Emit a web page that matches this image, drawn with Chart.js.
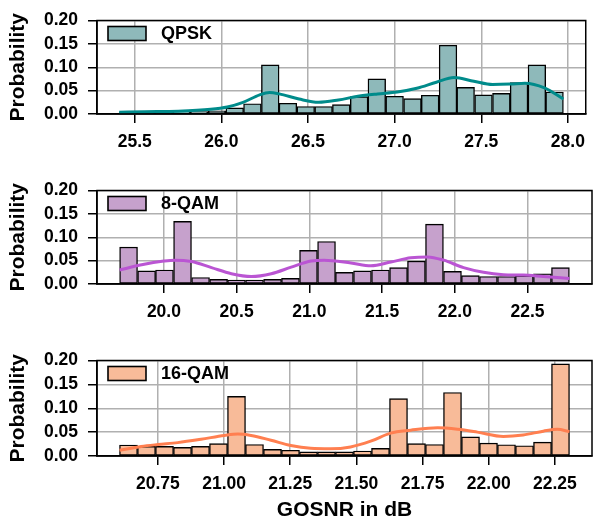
<!DOCTYPE html>
<html><head><meta charset="utf-8">
<script src="https://cdn.jsdelivr.net/npm/chart.js@4"></script>
<style>
html,body{margin:0;padding:0;background:#fff;}
#wrap{position:relative;width:594px;height:523px;overflow:hidden;background:#fff;}
canvas{position:absolute;left:0;}
</style></head><body>
<div id="wrap">
<canvas id="c1" width="594" height="170" style="top:0px"></canvas>
<canvas id="c2" width="594" height="170" style="top:170px"></canvas>
<canvas id="c3" width="594" height="183" style="top:340px"></canvas>
</div>
<script>
// ---------- QPSK ----------
const qpskBins = [25.461, 25.564, 25.666, 25.769, 25.871, 25.974, 26.077, 26.179, 26.282, 26.384, 26.487, 26.590, 26.692, 26.795, 26.897, 27.000, 27.103, 27.205, 27.308, 27.410, 27.513, 27.616, 27.718, 27.821, 27.923];
const qpskProb = [0.003, 0.003, 0.003, 0.004, 0.005, 0.007, 0.013, 0.022, 0.105, 0.023, 0.016, 0.016, 0.020, 0.037, 0.075, 0.038, 0.033, 0.040, 0.147, 0.057, 0.041, 0.044, 0.067, 0.105, 0.047];
const qpskKdeX = [25.410, 25.558, 25.751, 25.938, 26.034, 26.125, 26.221, 26.278, 26.334, 26.448, 26.561, 26.675, 26.788, 26.901, 27.015, 27.128, 27.241, 27.343, 27.457, 27.565, 27.667, 27.752, 27.865, 27.974];
const qpskKdeY = [0.004, 0.005, 0.006, 0.010, 0.015, 0.025, 0.041, 0.046, 0.043, 0.032, 0.025, 0.030, 0.038, 0.043, 0.047, 0.055, 0.068, 0.078, 0.070, 0.063, 0.064, 0.066, 0.056, 0.032];
const qpskTicks = [25.5, 26.0, 26.5, 27.0, 27.5, 28.0];
const qpskTickLabels = ["25.5", "26.0", "26.5", "27.0", "27.5", "28.0"];

// ---------- 8-QAM ----------
const qam8Bins = [19.757, 19.881, 20.004, 20.128, 20.252, 20.376, 20.499, 20.623, 20.747, 20.870, 20.994, 21.118, 21.241, 21.365, 21.489, 21.613, 21.736, 21.860, 21.984, 22.107, 22.231, 22.355, 22.478, 22.602, 22.726];
const qam8Prob = [0.079, 0.028, 0.030, 0.134, 0.014, 0.010, 0.0085, 0.0085, 0.010, 0.012, 0.072, 0.091, 0.025, 0.028, 0.030, 0.035, 0.049, 0.128, 0.027, 0.018, 0.016, 0.016, 0.018, 0.022, 0.035];
const qam8KdeX = [19.695, 19.847, 20.000, 20.073, 20.190, 20.327, 20.464, 20.601, 20.738, 20.875, 21.012, 21.101, 21.286, 21.423, 21.560, 21.697, 21.813, 21.923, 22.060, 22.197, 22.334, 22.471, 22.608, 22.788];
const qam8KdeY = [0.030, 0.041, 0.049, 0.051, 0.048, 0.035, 0.022, 0.016, 0.022, 0.036, 0.049, 0.051, 0.045, 0.039, 0.047, 0.056, 0.058, 0.051, 0.035, 0.025, 0.020, 0.019, 0.016, 0.012];
const qam8Ticks = [20.0, 20.5, 21.0, 21.5, 22.0, 22.5];
const qam8TickLabels = ["20.0", "20.5", "21.0", "21.5", "22.0", "22.5"];

// ---------- 16-QAM ----------
const qam16Bins = [20.639, 20.707, 20.775, 20.843, 20.911, 20.979, 21.047, 21.115, 21.183, 21.251, 21.319, 21.387, 21.455, 21.523, 21.591, 21.659, 21.727, 21.795, 21.863, 21.931, 21.999, 22.067, 22.135, 22.203, 22.271];
const qam16Prob = [0.023, 0.020, 0.020, 0.018, 0.020, 0.026, 0.125, 0.024, 0.014, 0.012, 0.0085, 0.0085, 0.0085, 0.0105, 0.016, 0.120, 0.026, 0.024, 0.133, 0.040, 0.027, 0.0235, 0.0215, 0.029, 0.193];
const qam16KdeX = [20.605, 20.687, 20.750, 20.825, 20.913, 21.001, 21.052, 21.102, 21.177, 21.252, 21.327, 21.403, 21.478, 21.554, 21.629, 21.705, 21.807, 21.882, 21.957, 22.055, 22.130, 22.206, 22.259, 22.305];
const qam16KdeY = [0.012, 0.020, 0.024, 0.028, 0.035, 0.043, 0.046, 0.043, 0.033, 0.022, 0.016, 0.015, 0.019, 0.031, 0.048, 0.054, 0.059, 0.056, 0.050, 0.041, 0.044, 0.052, 0.056, 0.051];
const qam16Ticks = [20.75, 21.00, 21.25, 21.50, 21.75, 22.00, 22.25];
const qam16TickLabels = ["20.75", "21.00", "21.25", "21.50", "21.75", "22.00", "22.25"];

const yTicks = [0.00, 0.05, 0.10, 0.15, 0.20];
const yTicksLabels = ["0.00", "0.05", "0.10", "0.15", "0.20"];
const yLabel = "Probability";
const xLabel = "GOSNR in dB";

Chart.defaults.font.family = "'Liberation Sans', Arial, sans-serif";
Chart.defaults.font.weight = 'bold';
Chart.defaults.color = '#000';

const framePlugin = {
  id: 'frame',
  afterDatasetsDraw(chart) {
    const a = chart.chartArea, ctx = chart.ctx;
    ctx.save();
    ctx.strokeStyle = '#000';
    ctx.lineWidth = 1.5;
    ctx.strokeRect(a.left, a.top, a.right - a.left, a.bottom - a.top);
    ctx.restore();
  }
};
const legendPlugin = {
  id: 'boxLegend',
  afterDraw(chart) {
    const a = chart.chartArea, ctx = chart.ctx;
    const ds = chart.data.datasets.find(d => d.type === 'bar');
    ctx.save();
    ctx.fillStyle = ds.backgroundColor;
    ctx.fillRect(a.left + 11, a.top + 6, 38, 14);
    ctx.strokeStyle = '#000';
    ctx.lineWidth = 1.6;
    ctx.strokeRect(a.left + 11, a.top + 6, 38, 14);
    ctx.fillStyle = '#000';
    ctx.font = "bold 18px 'Liberation Sans', Arial, sans-serif";
    ctx.textBaseline = 'middle';
    ctx.textAlign = 'left';
    ctx.fillText(ds.label, a.left + 64, a.top + 14);
    ctx.restore();
  }
};

function makeChart(id, o) {
  const gridCommon = {color: '#b0b0b0', lineWidth: 1.5, tickColor: '#000', tickWidth: 1.5, tickLength: 9};
  return new Chart(document.getElementById(id), {
    type: 'bar',
    data: {
      datasets: [
        {type: 'line', label: o.name + ' KDE', data: o.kx.map((x, i) => ({x: x, y: o.ky[i]})),
         borderColor: o.lineColor, borderWidth: 3, pointRadius: 0, fill: false,
         cubicInterpolationMode: 'monotone', order: 0},
        {type: 'bar', label: o.name, data: o.bins.map((x, i) => ({x: x, y: o.vals[i]})),
         backgroundColor: o.barColor, borderColor: '#000', borderWidth: 1.4, borderSkipped: false,
         barPercentage: 1, categoryPercentage: 1, order: 1}
      ]
    },
    options: {
      responsive: false, animation: false, devicePixelRatio: 1,
      layout: {padding: {top: o.top, right: 2, left: 0, bottom: 0}},
      plugins: {legend: {display: false}, tooltip: {enabled: false}},
      scales: {
        x: {
          type: 'linear', min: o.xmin, max: o.xmax, offset: false,
          grid: Object.assign({offset: false}, gridCommon),
          border: {color: '#000', width: 1.5},
          ticks: {autoSkip: false, maxRotation: 0, padding: 9, color: '#000',
                  font: {size: 17.5, weight: 'bold'},
                  callback: (v, i) => o.tickLabels[i]},
          afterBuildTicks: s => { s.ticks = o.ticks.map(v => ({value: v})); },
          afterFit: s => { s.height = o.h - o.bottom; },
          title: {display: !!o.xTitle, text: o.xTitle || '', color: '#000',
                  font: {size: 21, weight: 'bold'}, padding: {top: 0, bottom: 0}}
        },
        y: {
          min: 0, max: 0.2,
          grid: gridCommon,
          border: {color: '#000', width: 1.5},
          ticks: {autoSkip: false, padding: 10, color: '#000', font: {size: 17.5, weight: 'bold'},
                  callback: (v, i) => yTicksLabels[i]},
          afterBuildTicks: s => { s.ticks = yTicks.map(v => ({value: v})); },
          afterFit: s => { s.width = 97; },
          title: {display: true, text: yLabel, color: '#000', font: {size: 21, weight: 'bold'},
                  padding: {top: 6, bottom: 0}}
        }
      }
    },
    plugins: [framePlugin, legendPlugin]
  });
}

makeChart('c1', {name: 'QPSK', bins: qpskBins, vals: qpskProb, kx: qpskKdeX, ky: qpskKdeY,
  barColor: '#8EB9BA', lineColor: '#008B8B', xmin: 25.282, xmax: 28.103,
  ticks: qpskTicks, tickLabels: qpskTickLabels, top: 13, bottom: 114, h: 170});
makeChart('c2', {name: '8-QAM', bins: qam8Bins, vals: qam8Prob, kx: qam8KdeX, ky: qam8KdeY,
  barColor: '#C6A1CC', lineColor: '#BA55D3', xmin: 19.54, xmax: 22.943,
  ticks: qam8Ticks, tickLabels: qam8TickLabels, top: 13, bottom: 114, h: 170});
makeChart('c3', {name: '16-QAM', bins: qam16Bins, vals: qam16Prob, kx: qam16KdeX, ky: qam16KdeY,
  barColor: '#F8BB99', lineColor: '#FF7F50', xmin: 20.52, xmax: 22.39,
  ticks: qam16Ticks, tickLabels: qam16TickLabels, top: 14, bottom: 116, h: 183, xTitle: xLabel});
</script>
</body></html>
